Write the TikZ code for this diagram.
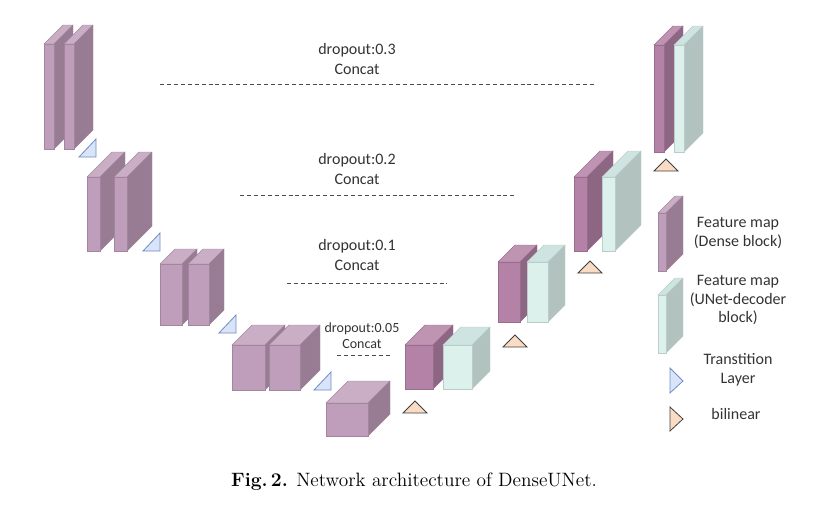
\documentclass[tikz,border=0pt]{standalone}
\usepackage{fontspec}
\newfontfamily\lbl{Carlito}
\usetikzlibrary{calc}
\definecolor{encF}{RGB}{190,158,186}
\definecolor{encS}{RGB}{152,124,147}
\definecolor{encT}{RGB}{202,174,198}
\definecolor{decF}{RGB}{180,130,166}
\definecolor{decS}{RGB}{140,102,130}
\definecolor{decT}{RGB}{190,148,178}
\definecolor{upF}{RGB}{220,240,236}
\definecolor{upS}{RGB}{178,194,190}
\definecolor{upT}{RGB}{206,228,224}
\definecolor{trF}{RGB}{218,228,248}
\definecolor{trD}{RGB}{110,140,200}
\definecolor{biF}{RGB}{250,220,196}
\tikzset{
  enc front/.style={fill=encF, draw=encF!85!black, line width=0.3pt},
  enc side/.style={fill=encS, draw=encF!85!black, line width=0.3pt},
  enc top/.style={fill=encT, draw=encF!85!black, line width=0.3pt},
  dec front/.style={fill=decF, draw=decF!85!black, line width=0.3pt},
  dec side/.style={fill=decS, draw=decF!85!black, line width=0.3pt},
  dec top/.style={fill=decT, draw=decF!85!black, line width=0.3pt},
  up front/.style={fill=upF, draw=upF!85!black, line width=0.3pt},
  up side/.style={fill=upS, draw=upF!85!black, line width=0.3pt},
  up top/.style={fill=upT, draw=upF!85!black, line width=0.3pt},
  trans/.style={fill=trF, draw=trD, line width=0.6pt},
  bilin/.style={fill=biF, draw=black!75, line width=0.6pt},
  skip/.style={dashed, draw=black!70, line width=0.6pt, dash pattern=on 3pt off 2.2pt},
  label/.style={font=\lbl\fontsize{12}{14}\selectfont, text=black!80, align=center, inner sep=0pt},
}
% feature map slab: #1 kind, #2 x, #3 y (front top-left), #4 width, #5 height, #6 depth
\newcommand{\fmap}[6]{%
  \draw[#1 top] (#2,#3) -- ++(#6,-#6) -- ++(#4,0) -- ++(-#6,#6) -- cycle;
  \draw[#1 side] (#2+#4,#3) -- ++(#6,-#6) -- ++(0,#5) -- ++(-#6,#6) -- cycle;
  \draw[#1 front] (#2,#3) rectangle ++(#4,#5);
}
\begin{document}
\begin{tikzpicture}[x=0.75pt, y=-0.75pt]
    \useasboundingbox (0,0) rectangle (832,518);

    % Encoder (dense blocks)
    \fmap{enc}{44}{44}{10}{105}{19}
    \fmap{enc}{64}{44}{10}{105}{19}
    \fmap{enc}{87}{177}{13}{74}{25}
    \fmap{enc}{114}{177}{13}{74}{25}
    \fmap{enc}{160}{264}{22}{61}{15}
    \fmap{enc}{188}{264}{21}{61}{15}
    \fmap{enc}{232}{345}{33}{45}{20}
    \fmap{enc}{269}{345}{31}{45}{20}
    \fmap{enc}{326}{403}{42}{33}{22}

    % Transition layers
    \foreach \x/\y in {79/157, 143/251, 219/333, 314/390}
        \draw[trans] (\x,\y) -- ++(17,0) -- ++(0,-18) -- cycle;

    % Decoder
    \fmap{dec}{405}{345}{28}{44}{20}
    \fmap{up}{443}{345}{29}{44}{18}
    \fmap{dec}{498}{262}{22}{60}{17}
    \fmap{up}{527}{262}{21}{60}{17}
    \fmap{dec}{574}{177}{13}{74}{26}
    \fmap{up}{602}{177}{13}{74}{26}
    \fmap{dec}{654}{45}{10}{107}{19}
    \fmap{up}{674}{45}{10}{107}{19}

    % Bilinear upsampling
    \foreach \x/\y in {403/413, 503/347, 578/273, 654/171}
        \draw[bilin] (\x,\y) -- ++(24,0) -- ++(-12,-12) -- cycle;

    % Skip connections
    \node[label] (c1) at (357,59) {dropout:0.3\\[1pt]Concat};
    \coordinate (s1a) at (160,84); \coordinate (s1b) at (595,84);
    \draw[skip] (s1a) -- (s1b);
    \node[label] (c2) at (357,169) {dropout:0.2\\[1pt]Concat};
    \coordinate (s2a) at (240,195); \coordinate (s2b) at (515,195);
    \draw[skip] (s2a) -- (s2b);
    \node[label] (c3) at (357,255) {dropout:0.1\\[1pt]Concat};
    \coordinate (s3a) at (287,283); \coordinate (s3b) at (447,283);
    \draw[skip] (s3a) -- (s3b);
    \node[label, font=\lbl\fontsize{10.5}{12}\selectfont] (c4) at (362,336) {dropout:0.05\\Concat};
    \coordinate (s4a) at (337,355); \coordinate (s4b) at (390,355);
    \draw[skip] (s4a) -- (s4b);

    % Legend
    \fmap{enc}{658}{213}{8}{58}{17}
    \fmap{up}{658}{295}{8}{58}{17}
    \draw[trans] (670,368) -- (683,381) -- (670,393) -- cycle;
    \draw[bilin] (670,407) -- (683,419) -- (670,431) -- cycle;
    \node[label] (l1) at (738,233) {Feature map\\(Dense block)};
    \node[label] (l2) at (738,300) {Feature map\\(UNet-decoder\\block)};
    \node[label] (l3) at (738,370) {Transtition\\Layer};
    \node[label] (l4) at (736,414) {bilinear};

    % Caption
    \node[font=\fontsize{14.5}{17}\selectfont] (cap) at (414,482) {\textbf{Fig.\,2.} Network architecture of DenseUNet.};
\end{tikzpicture}
\end{document}
